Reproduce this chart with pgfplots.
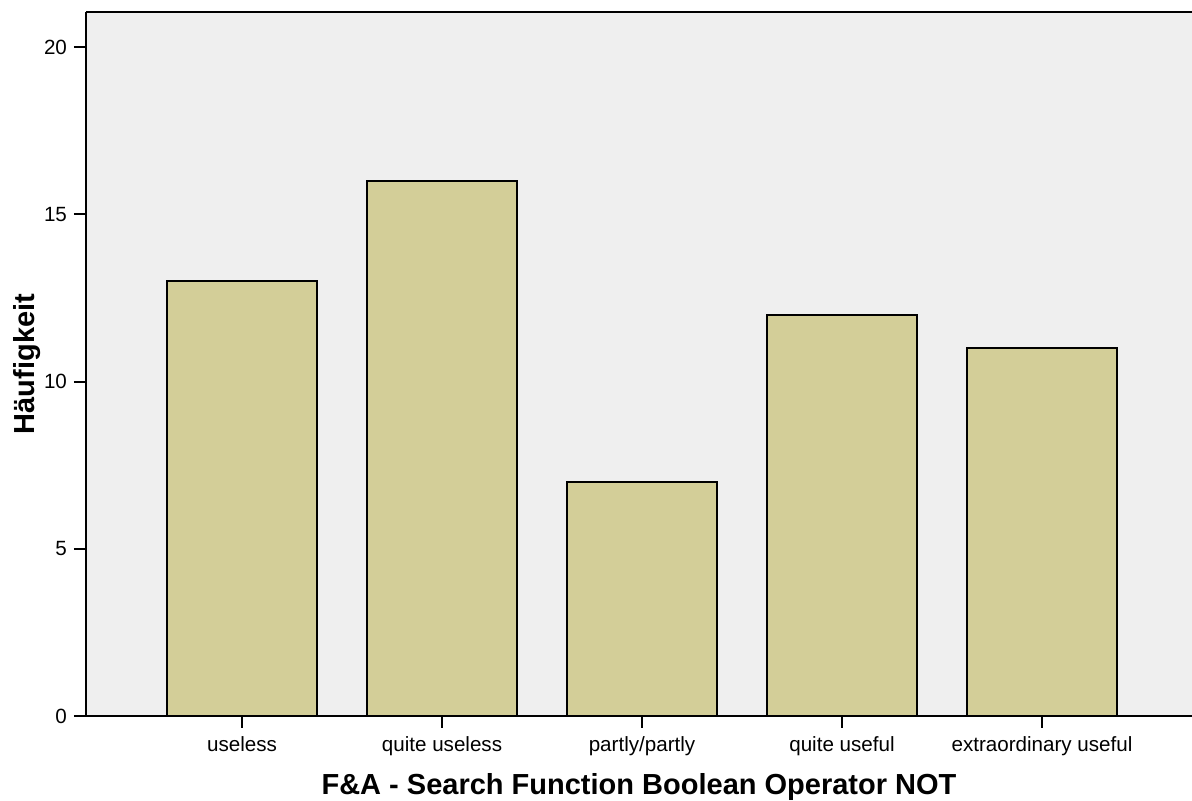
\documentclass[border=0pt]{standalone}
\usepackage{pgfplots}
\pgfplotsset{compat=1.18}
\usepackage{fontspec}
\setmainfont{Liberation Sans}
\definecolor{bgc}{HTML}{EFEFEF}
\definecolor{barc}{HTML}{D3CE98}
\begin{document}
\begin{tikzpicture}
\useasboundingbox (-43pt,-42.5pt) rectangle (553pt,358pt);
\begin{axis}[
  at={(0,0)}, anchor=south west,
  scale only axis,
  width=553pt, height=352pt,
  xmin=-0.78, xmax=4.75,
  ymin=0, ymax=21.05,
  axis background/.style={fill=bgc},
  axis lines*=left,
  axis line style={line width=1pt, -},
  xtick=data,
  xticklabels={useless, quite useless, partly/partly, quite useful, extraordinary useful},
  ytick={0,5,10,15,20},
  tick align=outside,
  tick style={line width=1pt, black},
  major tick length=6pt,
  x tick label style={font=\fontsize{10.3pt}{12pt}\selectfont, yshift=-1pt},
  y tick label style={font=\fontsize{10.3pt}{12pt}\selectfont},
  /pgf/number format/assume math mode=true,
  xlabel={\textbf{F\&A - Search Function Boolean Operator NOT}},
  ylabel={\textbf{Häufigkeit}},
  xlabel style={font=\fontsize{14.5pt}{16pt}\selectfont, yshift=-1.5pt},
  ylabel style={font=\fontsize{14.5pt}{16pt}\selectfont, yshift=-5pt},
  clip=false,
]
\draw[line width=1pt] (axis cs:-0.78,21.05) -- (axis cs:4.75,21.05);
\addplot[ybar, bar width=0.75, fill=barc, draw=black, line width=1pt] coordinates {
  (0,13) (1,16) (2,7) (3,12) (4,11)
};
\end{axis}
\end{tikzpicture}
\end{document}
